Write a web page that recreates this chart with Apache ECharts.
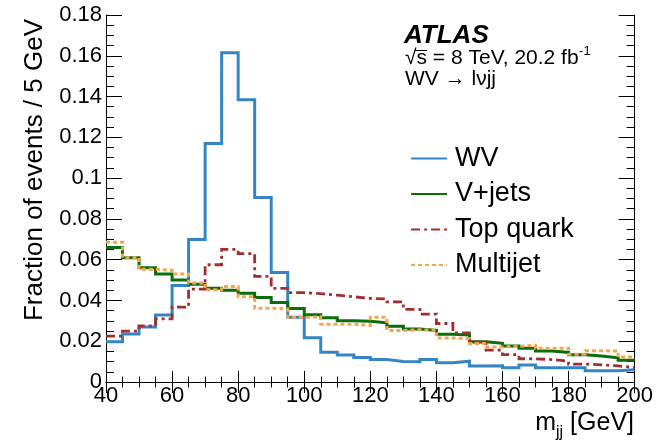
<!DOCTYPE html>
<html>
<head>
<meta charset="utf-8">
<script src="https://cdn.jsdelivr.net/npm/echarts@6/dist/echarts.min.js"></script>
<style>
  html, body { margin: 0; padding: 0; background: #fff; }
  #chart { width: 656px; height: 445px; }
</style>
</head>
<body>
<div id="chart"></div>
<script>
// Low edges of the 5 GeV m_jj bins (40-200 GeV)
const binEdges = [40, 45, 50, 55, 60, 65, 70, 75, 80, 85, 90, 95, 100, 105, 110, 115,
                  120, 125, 130, 135, 140, 145, 150, 155, 160, 165, 170, 175, 180, 185, 190, 195];
const binUpper = 200;

// Normalised fractions per bin
const wv = [0.0197, 0.0236, 0.0270, 0.0329, 0.0473, 0.0699, 0.1170, 0.1615, 0.1384, 0.0905,
            0.0537, 0.0317, 0.0217, 0.0146, 0.0133, 0.0120, 0.0110, 0.0101, 0.0099, 0.0110,
            0.0094, 0.0102, 0.0078, 0.0080, 0.0070, 0.0083, 0.0070, 0.0070, 0.0070, 0.0055,
            0.0055, 0.0060];
const vjets = [0.0660, 0.0610, 0.0560, 0.0530, 0.0500, 0.0480, 0.0460, 0.0450, 0.0435, 0.0415,
               0.0390, 0.0360, 0.0330, 0.0315, 0.0300, 0.0298, 0.0290, 0.0273, 0.0260, 0.0253,
               0.0234, 0.0230, 0.0197, 0.0190, 0.0177, 0.0166, 0.0152, 0.0145, 0.0134, 0.0127,
               0.0119, 0.0107];
const topQuark = [0.0225, 0.0250, 0.0275, 0.0310, 0.0367, 0.0456, 0.0575, 0.0650, 0.0630, 0.0518,
                  0.0459, 0.0438, 0.0433, 0.0426, 0.0418, 0.0410, 0.0407, 0.0393, 0.0356, 0.0333,
                  0.0287, 0.0241, 0.0196, 0.0156, 0.0134, 0.0114, 0.0110, 0.0102, 0.0088, 0.0084,
                  0.0079, 0.0071];
const multijet = [0.0686, 0.0610, 0.0553, 0.0548, 0.0530, 0.0486, 0.0452, 0.0468, 0.0418, 0.0362,
                  0.0358, 0.0317, 0.0320, 0.0283, 0.0283, 0.0278, 0.0317, 0.0253, 0.0256, 0.0254,
                  0.0216, 0.0212, 0.0189, 0.0172, 0.0175, 0.0180, 0.0166, 0.0166, 0.0136, 0.0153,
                  0.0152, 0.0123];

const xTicks = [40, 60, 80, 100, 120, 140, 160, 180, 200];
const yTicks = [0, 0.02, 0.04, 0.06, 0.08, 0.1, 0.12, 0.14, 0.16, 0.18];

// Histogram outline: one point per low edge plus the closing upper edge
function histPoints(vals) {
  const pts = binEdges.map((e, i) => [e, vals[i]]);
  pts.push([binUpper, vals[vals.length - 1]]);
  return pts;
}

const FONT = 'Liberation Sans, Arial, Helvetica, sans-serif';

// Text width helper for laying out super/subscripts
const measureCtx = document.createElement('canvas').getContext('2d');
function textWidth(str, font) {
  measureCtx.font = font;
  return measureCtx.measureText(str).width;
}
// Place a text by its baseline (middle of the em box sits ~0.35em above it)
function textAt(str, x, baseline, size, opts) {
  opts = opts || {};
  return {
    type: 'text', x, y: baseline - 0.35 * size,
    style: {
      text: str, font: (opts.style || '') + ' ' + size + 'px ' + FONT, fill: '#000',
      align: opts.align || 'left', verticalAlign: 'middle'
    }
  };
}

const chart = echarts.init(document.getElementById('chart'), null, { renderer: 'canvas' });

const tickX = { show: true, inside: true, length: 11, lineStyle: { color: '#000', width: 1 } };
const minorX = { show: true, splitNumber: 4, length: 5.5, lineStyle: { color: '#000', width: 1 } };
const tickY = { show: true, inside: true, length: 16, lineStyle: { color: '#000', width: 1 } };
const minorY = { show: true, splitNumber: 4, length: 8, lineStyle: { color: '#000', width: 1 } };
const axisLine = { show: true, lineStyle: { color: '#000', width: 1 } };

function stepSeries(name, vals, color, type, width) {
  return {
    name, type: 'line', step: 'end', data: histPoints(vals),
    symbol: 'none', showSymbol: false, animation: false,
    lineStyle: { color, width, type, cap: 'butt', join: 'miter' },
    itemStyle: { color }
  };
}

// Header lines
const line2 = '√s = 8 TeV, 20.2 fb';
const line2End = 405 + textWidth(line2, '21px ' + FONT);
const sqrtW = textWidth('√', '21px ' + FONT);
const sW = textWidth('s', '21px ' + FONT);

// x-axis title laid out right-to-left from the frame edge
const unitStr = ' [GeV]';
const unitW = textWidth(unitStr, '25px ' + FONT);
const subW = textWidth('jj', '16px ' + FONT);
const mW = textWidth('m', '25px ' + FONT);
const unitX = 634 - unitW;
const subX = unitX - subW;
const mX = subX - mW;

chart.setOption({
  animation: false,
  backgroundColor: '#fff',
  grid: { left: 106, right: 20, top: 15, bottom: 63, containLabel: false },
  xAxis: [
    {
      type: 'value', min: 40, max: 200, interval: 20, position: 'bottom',
      axisLine, axisTick: tickX, minorTick: minorX, splitLine: { show: false },
      axisLabel: {
        show: true, margin: 3, color: '#000', fontSize: 22, fontFamily: FONT,
        formatter: v => xTicks.includes(v) ? String(v) : ''
      }
    },
    {
      type: 'value', min: 40, max: 200, interval: 20, position: 'top',
      axisLine, axisTick: tickX, minorTick: minorX, splitLine: { show: false },
      axisLabel: { show: false }
    }
  ],
  yAxis: [
    {
      type: 'value', min: 0, max: 0.18, interval: 0.02, position: 'left',
      axisLine, axisTick: tickY, minorTick: minorY, splitLine: { show: false },
      axisLabel: {
        show: true, margin: 4, color: '#000', fontSize: 22, fontFamily: FONT,
        formatter: v => {
          const t = yTicks.find(y => Math.abs(y - v) < 1e-9);
          return t === undefined ? '' : (t === 0 ? '0' : String(+t.toFixed(2)));
        }
      }
    },
    {
      type: 'value', min: 0, max: 0.18, interval: 0.02, position: 'right',
      axisLine, axisTick: tickY, minorTick: minorY, splitLine: { show: false },
      axisLabel: { show: false }
    }
  ],
  legend: {
    orient: 'vertical', left: 410, top: 145, padding: 0,
    itemWidth: 36, itemHeight: 14, itemGap: 8.5,
    itemStyle: { opacity: 0 },
    lineStyle: { width: 2.2 },
    textStyle: { fontSize: 27, color: '#000', fontFamily: FONT, padding: [0, 0, 0, 3] },
    data: ['WV', 'V+jets', 'Top quark', 'Multijet']
  },
  series: [
    stepSeries('WV', wv, '#3585c3', 'solid', 3),
    stepSeries('V+jets', vjets, '#0a6e0a', 'solid', 3),
    stepSeries('Top quark', topQuark, '#a0302f', [9, 4, 3, 4], 2.8),
    stepSeries('Multijet', multijet, '#f7a54d', [4, 3], 3)
  ],
  graphic: [
    textAt('ATLAS', 404, 45, 26, { style: 'italic bold' }),
    textAt(line2, 405, 66, 21),
    textAt('-1', line2End + 0.5, 56, 13),
    {
      type: 'line', shape: { x1: 405 + sqrtW - 1.5, y1: 50.5, x2: 405 + sqrtW + sW, y2: 50.5 },
      style: { stroke: '#000', lineWidth: 1 }
    },
    textAt('WV → lνjj', 405, 87, 21),
    {
      type: 'text', x: 35, y: 170, rotation: Math.PI / 2,
      style: { text: 'Fraction of events / 5 GeV', font: '26px ' + FONT, fill: '#000',
               align: 'center', verticalAlign: 'middle' }
    },
    textAt('m', mX, 432, 25),
    textAt('jj', subX, 438, 16),
    textAt(unitStr, unitX, 432, 25)
  ]
});
</script>
</body>
</html>
